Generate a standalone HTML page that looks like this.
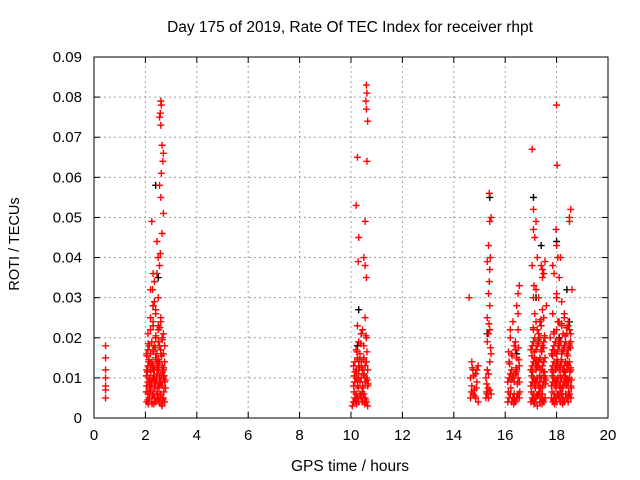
<!DOCTYPE html>
<html><head><meta charset="utf-8">
<style>
body{margin:0;background:#fff;}
svg{display:block;font-family:"Liberation Sans",sans-serif;}
</style></head>
<body>
<svg id="chart" width="640" height="480" viewBox="0 0 640 480">
<rect width="640" height="480" fill="#fff"/>
<text x="350" y="32" font-size="15.5" text-anchor="middle">Day 175 of 2019, Rate Of TEC Index for receiver rhpt</text>
<text x="350" y="471" font-size="15.5" text-anchor="middle">GPS time / hours</text>
<text x="19" y="244" font-size="14.5" text-anchor="middle" transform="rotate(-90 19 244)">ROTI / TECUs</text>
<g id="grid"></g><g id="ticks"></g><g id="marks"></g>
<rect x="94" y="57" width="514" height="361" fill="none" stroke="#000" stroke-width="1"/>
</svg>
<script>
const xTicks=[0,2,4,6,8,10,12,14,16,18,20];
const yTicks=[0,0.01,0.02,0.03,0.04,0.05,0.06,0.07,0.08,0.09];
const yTickLabels=["0","0.01","0.02","0.03","0.04","0.05","0.06","0.07","0.08","0.09"];
const redHours=[
0.45,0.45,0.45,0.45,0.45,0.45,0.45,
2.05,2.1,2.15,2.2,2.25,2.3,2.35,2.4,2.45,2.5,2.55,2.6,2.65,2.7,2.75,
2.05,2.1,2.15,2.2,2.25,2.3,2.35,2.4,2.45,2.5,2.55,2.6,2.65,2.7,2.75,
2.05,2.1,2.15,2.2,2.25,2.3,2.35,2.4,2.45,2.5,2.55,2.6,2.65,2.7,2.75,
2.05,2.1,2.15,2.2,2.25,2.3,2.35,2.4,2.45,2.5,2.55,2.6,2.65,2.7,2.75,
2.1,2.2,2.3,2.4,2.5,2.6,2.7,2.2,2.3,2.4,2.5,2.6,2.3,2.4,2.5,2.2,2.35,2.45,2.55,
2.6,2.62,2.58,2.55,2.6,2.65,2.7,2.68,2.62,2.55,2.6,2.7,2.65,2.45,2.58,2.5,2.25,2.3,2.28,2.35,
2.03,2.08,2.12,2.17,2.22,2.27,2.32,2.37,2.42,2.47,2.52,2.57,2.62,2.67,2.72,2.77,
2.04,2.09,2.13,2.18,2.23,2.28,2.33,2.38,2.43,2.48,2.53,2.58,2.63,2.68,2.73,2.78,
2.06,2.11,2.16,2.21,2.26,2.31,2.36,2.41,2.46,2.51,2.56,2.61,2.66,2.71,
10.1,10.15,10.2,10.25,10.3,10.35,10.4,10.45,10.5,10.55,10.6,10.65,
10.1,10.15,10.2,10.25,10.3,10.35,10.4,10.45,10.5,10.55,10.6,10.65,
10.1,10.15,10.2,10.25,10.3,10.35,10.4,10.45,10.5,10.55,10.6,10.65,
10.2,10.3,10.4,10.5,10.6,10.25,10.45,10.55,
10.12,10.17,10.22,10.27,10.32,10.37,10.42,10.47,10.52,10.57,10.62,10.67,
10.13,10.18,10.23,10.28,10.33,10.38,10.43,10.48,10.53,10.58,10.63,
10.6,10.62,10.58,10.6,10.65,10.62,10.55,10.25,10.2,10.3,10.28,10.5,10.55,10.6,10.05,
14.65,14.75,14.85,14.95,14.7,14.8,14.9,14.65,14.75,14.85,14.95,14.7,14.9,14.6,14.68,14.78,14.88,14.72,14.82,
15.25,15.3,15.35,15.4,15.45,15.25,15.3,15.35,15.4,15.45,15.3,15.35,15.4,15.3,15.4,15.35,15.38,15.4,15.42,15.35,15.4,15.3,15.45,15.38,15.28,15.33,15.43,15.27,15.37,
16.1,16.15,16.2,16.25,16.3,16.35,16.4,16.45,16.5,16.55,
16.1,16.15,16.2,16.25,16.3,16.35,16.4,16.45,16.5,16.55,
16.12,16.17,16.22,16.27,16.32,16.37,16.42,16.47,16.52,16.57,16.13,16.23,16.33,16.43,16.53,
16.15,16.25,16.35,16.45,16.55,16.2,16.4,16.5,16.5,16.45,16.5,16.55,16.2,16.3,16.4,
17.0,17.05,17.1,17.15,17.2,17.25,17.3,17.35,17.4,17.45,17.5,17.55,
17.0,17.05,17.1,17.15,17.2,17.25,17.3,17.35,17.4,17.45,17.5,17.55,
17.0,17.05,17.1,17.15,17.2,17.25,17.3,17.35,17.4,17.45,17.5,17.55,
17.0,17.05,17.1,17.15,17.2,17.25,17.3,17.35,17.4,17.45,17.5,17.55,
17.02,17.07,17.12,17.17,17.22,17.27,17.32,17.37,17.42,17.47,17.52,17.57,
17.03,17.08,17.13,17.18,17.23,17.28,17.33,17.38,17.43,17.48,17.53,17.58,
17.04,17.09,17.14,17.19,17.24,17.29,17.34,17.39,17.44,17.49,17.54,
17.1,17.2,17.3,17.4,17.5,17.15,17.25,17.35,17.45,
17.05,17.1,17.12,17.15,17.1,17.2,17.05,17.1,17.25,17.45,17.5,17.4,17.55,17.45,17.6,17.2,17.3,
17.8,17.85,17.9,17.95,18.0,18.05,18.1,18.15,18.2,18.25,18.3,18.35,18.4,18.45,18.5,18.55,
17.8,17.85,17.9,17.95,18.0,18.05,18.1,18.15,18.2,18.25,18.3,18.35,18.4,18.45,18.5,18.55,
17.8,17.85,17.9,17.95,18.0,18.05,18.1,18.15,18.2,18.25,18.3,18.35,18.4,18.45,18.5,18.55,
17.8,17.85,17.9,17.95,18.0,18.05,18.1,18.15,18.2,18.25,18.3,18.35,18.4,18.45,18.5,18.55,
17.82,17.87,17.92,17.97,18.02,18.07,18.12,18.17,18.22,18.27,18.32,18.37,18.42,18.47,18.52,18.57,
17.83,17.88,17.93,17.98,18.03,18.08,18.13,18.18,18.23,18.28,18.33,18.38,18.43,18.48,18.53,18.58,
17.84,17.89,17.94,17.99,18.04,18.09,18.14,18.19,18.24,18.29,18.34,18.39,18.44,18.49,18.54,
17.9,18.0,18.1,18.2,18.3,18.4,18.5,17.85,18.05,18.25,18.45,
18.0,18.02,17.98,18.0,18.05,17.9,17.85,18.1,18.15,18.0,18.2,18.55,18.5,18.6,18.5,18.45,18.3,18.55,18.0,17.75
];
const redRoti=[
0.005,0.007,0.008,0.010,0.012,0.015,0.018,
0.004,0.006,0.005,0.007,0.004,0.006,0.005,0.004,0.006,0.005,0.004,0.006,0.003,0.005,0.004,
0.008,0.009,0.010,0.008,0.009,0.010,0.008,0.009,0.011,0.008,0.010,0.009,0.008,0.010,0.009,
0.012,0.013,0.014,0.012,0.014,0.013,0.012,0.015,0.013,0.012,0.014,0.016,0.013,0.012,0.014,
0.016,0.017,0.018,0.016,0.019,0.017,0.018,0.020,0.016,0.019,0.018,0.017,0.020,0.016,0.018,
0.021,0.022,0.023,0.020,0.022,0.024,0.021,0.025,0.024,0.026,0.023,0.025,0.028,0.027,0.030,0.032,0.034,0.036,0.038,
0.079,0.078,0.076,0.075,0.073,0.068,0.066,0.064,0.061,0.058,0.055,0.051,0.046,0.044,0.041,0.040,0.049,0.036,0.032,0.029,
0.0065,0.0115,0.0035,0.0095,0.0135,0.0055,0.0105,0.0075,0.0145,0.0045,0.0125,0.0085,0.0035,0.0115,0.0065,0.0095,
0.0105,0.0045,0.0145,0.0065,0.0085,0.0125,0.0035,0.0175,0.0095,0.0135,0.0075,0.0055,0.0155,0.0045,0.0105,0.0075,
0.0155,0.0185,0.0075,0.0115,0.0035,0.0165,0.0095,0.0205,0.0065,0.0145,0.0225,0.0105,0.0195,0.0125,
0.004,0.005,0.006,0.005,0.004,0.006,0.005,0.004,0.006,0.005,0.004,0.003,
0.008,0.009,0.010,0.008,0.011,0.009,0.010,0.008,0.011,0.009,0.010,0.008,
0.013,0.014,0.012,0.015,0.013,0.016,0.014,0.012,0.015,0.013,0.014,0.012,
0.017,0.019,0.021,0.018,0.020,0.023,0.022,0.025,
0.0065,0.0115,0.0035,0.0095,0.0145,0.0055,0.0125,0.0075,0.0105,0.0045,0.0165,0.0085,
0.0105,0.0045,0.0165,0.0075,0.0125,0.0185,0.0065,0.0145,0.0035,0.0205,0.0095,
0.083,0.081,0.079,0.077,0.074,0.064,0.049,0.065,0.053,0.045,0.039,0.040,0.038,0.035,0.003,
0.005,0.006,0.005,0.004,0.008,0.007,0.009,0.010,0.012,0.011,0.013,0.014,0.012,0.030,0.0065,0.0105,0.0075,0.0125,0.0055,
0.005,0.006,0.005,0.007,0.006,0.010,0.012,0.011,0.014,0.016,0.019,0.021,0.022,0.025,0.028,0.031,0.034,0.037,0.040,0.043,0.049,0.039,0.050,0.056,0.0085,0.0075,0.0175,0.0065,0.0235,
0.004,0.005,0.006,0.004,0.005,0.006,0.004,0.005,0.006,0.005,
0.009,0.010,0.011,0.012,0.010,0.009,0.011,0.012,0.010,0.009,
0.0065,0.0135,0.0075,0.0155,0.0105,0.0045,0.0125,0.0085,0.0175,0.0065,0.0165,0.0095,0.0035,0.0115,0.0145,
0.014,0.016,0.018,0.015,0.013,0.020,0.019,0.022,0.026,0.028,0.031,0.033,0.022,0.024,0.017,
0.004,0.005,0.006,0.004,0.005,0.003,0.006,0.004,0.005,0.006,0.004,0.005,
0.008,0.009,0.010,0.008,0.009,0.010,0.008,0.009,0.010,0.008,0.009,0.010,
0.012,0.013,0.014,0.015,0.012,0.013,0.014,0.015,0.012,0.013,0.014,0.015,
0.017,0.018,0.019,0.020,0.017,0.018,0.019,0.020,0.017,0.018,0.019,0.020,
0.0065,0.0115,0.0035,0.0095,0.0145,0.0055,0.0125,0.0075,0.0165,0.0045,0.0105,0.0085,
0.0105,0.0045,0.0165,0.0075,0.0125,0.0185,0.0065,0.0145,0.0035,0.0115,0.0205,0.0095,
0.0155,0.0225,0.0085,0.0135,0.0055,0.0195,0.0105,0.0245,0.0075,0.0175,0.0115,
0.022,0.024,0.021,0.023,0.025,0.026,0.022,0.024,0.027,
0.067,0.047,0.033,0.045,0.052,0.049,0.038,0.030,0.040,0.037,0.036,0.038,0.039,0.035,0.028,0.032,0.030,
0.005,0.004,0.006,0.005,0.004,0.006,0.005,0.004,0.006,0.005,0.004,0.006,0.005,0.004,0.006,0.005,
0.008,0.009,0.010,0.008,0.009,0.010,0.008,0.009,0.010,0.008,0.009,0.010,0.008,0.009,0.010,0.008,
0.012,0.013,0.014,0.012,0.013,0.014,0.012,0.013,0.014,0.012,0.013,0.014,0.012,0.013,0.014,0.012,
0.016,0.017,0.018,0.019,0.016,0.017,0.018,0.019,0.016,0.017,0.018,0.019,0.016,0.017,0.018,0.019,
0.0065,0.0115,0.0035,0.0095,0.0145,0.0055,0.0125,0.0075,0.0165,0.0045,0.0105,0.0085,0.0135,0.0065,0.0115,0.0075,
0.0105,0.0045,0.0165,0.0075,0.0125,0.0185,0.0065,0.0145,0.0035,0.0115,0.0205,0.0095,0.0155,0.0055,0.0175,0.0095,
0.0155,0.0215,0.0085,0.0135,0.0055,0.0195,0.0105,0.0235,0.0075,0.0175,0.0115,0.0225,0.0095,0.0185,0.0125,
0.021,0.022,0.024,0.023,0.025,0.021,0.022,0.026,0.024,0.021,0.023,
0.078,0.063,0.047,0.043,0.040,0.036,0.038,0.035,0.040,0.031,0.029,0.052,0.050,0.032,0.049,0.024,0.026,0.021,0.030,0.020
];
const blackHours=[2.4,2.5,2.3,10.3,10.4,10.25,15.3,15.4,16.45,17.1,17.2,17.4,18.0,18.1,18.4,18.5];
const blackRoti=[0.058,0.035,0.028,0.027,0.021,0.018,0.021,0.055,0.016,0.055,0.030,0.043,0.044,0.020,0.032,0.024];

const X0=94,X1=608,Y0=418,Y1=57;
const xs=v=>X0+(v-0)/(20-0)*(X1-X0);
const ys=v=>Y0-(v-0)/(0.09-0)*(Y0-Y1);
const NS="http://www.w3.org/2000/svg";
function mk(tag,attrs,parent){const e=document.createElementNS(NS,tag);for(const k in attrs)e.setAttribute(k,attrs[k]);parent.appendChild(e);return e;}
const grid=document.getElementById('grid'),ticks=document.getElementById('ticks'),marks=document.getElementById('marks');
xTicks.forEach((t,i)=>{const x=xs(t);
 if(i>0&&i<xTicks.length-1){const g=mk('line',{x1:x,x2:x,y1:Y0,y2:Y1,stroke:'#a0a0a0','stroke-dasharray':'2,3'},grid);
 
 }
 mk('line',{x1:x,x2:x,y1:Y0,y2:Y0-6,stroke:'#000'},ticks);
 mk('line',{x1:x,x2:x,y1:Y1,y2:Y1+6,stroke:'#000'},ticks);
 const tx=mk('text',{x:x,y:Y0+22,'font-size':15,'text-anchor':'middle'},ticks);tx.textContent=t;
 
 
});
yTicks.forEach((t,i)=>{const y=ys(t);
 if(i>0&&i<yTicks.length-1){const g=mk('line',{x1:X0,x2:X1,y1:y,y2:y,stroke:'#a0a0a0','stroke-dasharray':'2,3'},grid);
 
 }
 mk('line',{x1:X0,x2:X0+6,y1:y,y2:y,stroke:'#000'},ticks);
 mk('line',{x1:X1,x2:X1-6,y1:y,y2:y,stroke:'#000'},ticks);
 const tx=mk('text',{x:X0-12,y:y+5,'font-size':15,'text-anchor':'end'},ticks);tx.textContent=yTickLabels[i];
 
 
});
function plus(h,r,color,name){const x=xs(h),y=ys(r);
 const p=mk('path',{d:`M${x-3.5},${y}H${x+3.5}M${x},${y-3.5}V${y+3.5}`,stroke:color,'stroke-width':1.4,fill:'none'},marks);
 
 }
blackHours.forEach((h,i)=>plus(h,blackRoti[i],'#000','black-point'));
redHours.forEach((h,i)=>plus(h,redRoti[i],'#ff0000','roti-point'));
</script>
</body></html>
